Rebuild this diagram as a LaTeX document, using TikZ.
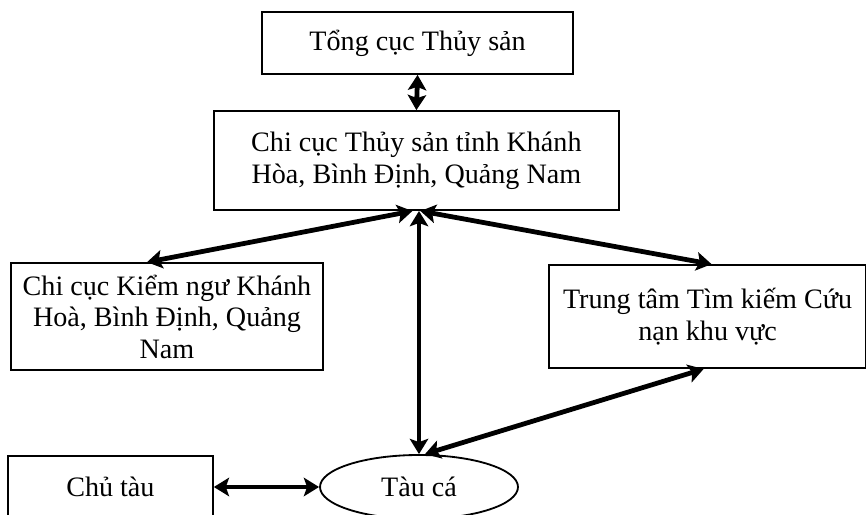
\documentclass[tikz,border=0pt]{standalone}
\usepackage{fontspec}
\setmainfont{Liberation Serif}
\usepackage{tikz}
\usetikzlibrary{arrows.meta,shapes.geometric}
\tikzstyle{unitbox}=[rectangle,draw,line width=1.3pt,align=center,font=\fontsize{20}{22.5}\selectfont]
\tikzstyle{link}=[line width=3.4pt,{Stealth[length=3.8mm,width=4.6mm,inset=0.8mm]}-{Stealth[length=3.8mm,width=4.6mm,inset=0.8mm]}]
\newcommand{\unitbox}{\node[unitbox]}

\begin{document}
\begin{tikzpicture}
    \useasboundingbox (0,0) rectangle (21.65,12.875);
    \unitbox[minimum width=7.775cm,minimum height=1.55cm] (tc) at (10.44,11.8) {Tổng cục Thủy sản};
    \unitbox[minimum width=10.125cm,minimum height=2.475cm] (cc) at (10.41,8.86) {Chi cục Thủy sản tỉnh Khánh\\Hòa, Bình Định, Quảng Nam};
    \unitbox[minimum width=7.8cm,minimum height=2.675cm] (kn) at (4.175,4.96) {Chi cục Kiểm ngư Khánh\\Hoà, Bình Định, Quảng\\Nam};
    \unitbox[minimum width=7.925cm,minimum height=2.575cm] (tk) at (17.69,4.96) {Trung tâm Tìm kiếm Cứu\\nạn khu vực};
    \unitbox[minimum width=5.125cm,minimum height=1.55cm] (ct) at (2.76,0.7) {Chủ tàu};
    \node[ellipse,draw,line width=1.3pt,minimum width=4.95cm,minimum height=1.6cm,font=\fontsize{20}{22.5}\selectfont] (tau) at (10.475,0.7) {Tàu cá};
    \path[link]
    (tc.south) edge (cc.north)
    ([xshift=-1mm]cc.south) edge ([xshift=-5mm]kn.north)
    ([xshift=1mm]cc.south) edge ([xshift=1mm]tk.north)
    (cc.south -| tau.north) edge (tau.north)
    ([xshift=1.5mm]tau.north) edge ([xshift=-1mm]tk.south)
    (ct.east) edge (tau.west);
\end{tikzpicture}
\end{document}
